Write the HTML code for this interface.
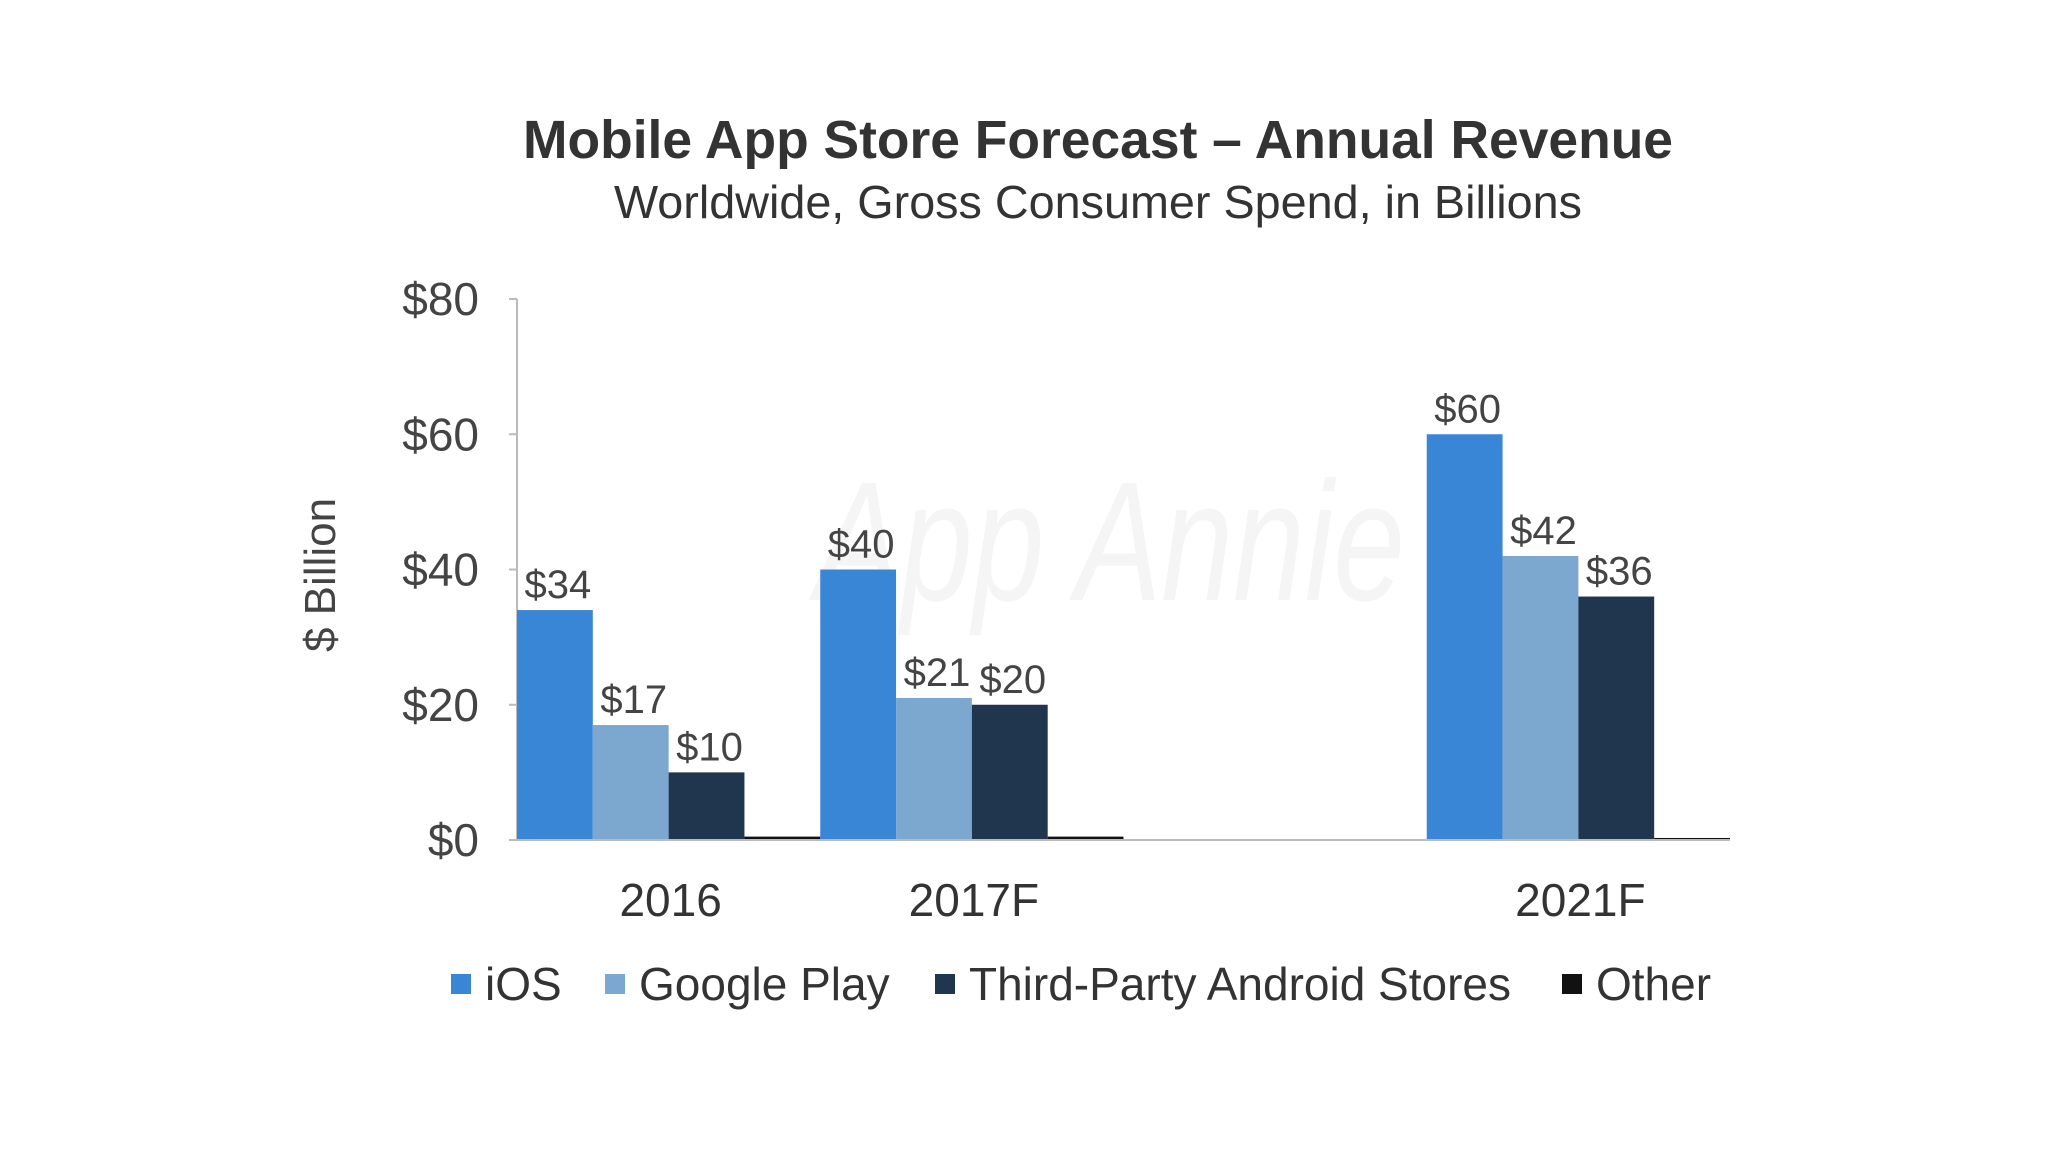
<!DOCTYPE html>
<html><head><meta charset="utf-8"><style>
html,body{margin:0;padding:0;background:#fff;}
svg{display:block;font-family:"Liberation Sans",sans-serif;}
</style></head><body>
<svg id="chart" width="2048" height="1152" viewBox="0 0 2048 1152">
<text x="1098" y="158" text-anchor="middle" font-size="54" font-weight="bold" fill="#333" textLength="1150" lengthAdjust="spacingAndGlyphs">Mobile App Store Forecast – Annual Revenue</text>
<text x="1098" y="218" text-anchor="middle" font-size="46" fill="#333" textLength="968" lengthAdjust="spacingAndGlyphs">Worldwide, Gross Consumer Spend, in Billions</text>
<text x="1110" y="600" text-anchor="middle" font-size="170" font-style="italic" fill="#f5f5f5" textLength="590" lengthAdjust="spacingAndGlyphs">App Annie</text>
<text transform="translate(335,575) rotate(-90)" text-anchor="middle" font-size="44" fill="#444">$ Billion</text>
<g id="plot"></g>
<g id="legend"></g>
</svg>
<script>
const categories = ["2016", "2017F", "", "2021F"];
const seriesNames = ["iOS", "Google Play", "Third-Party Android Stores", "Other"];
const iosValues = [34, 40, null, 60];
const googlePlayValues = [17, 21, null, 42];
const thirdPartyValues = [10, 20, null, 36];
const otherValues = [0.5, 0.5, null, 0.3];
const valueLabels = [["$34","$40","","$60"],["$17","$21","","$42"],["$10","$20","","$36"],["","","",""]];
const yTicks = [0, 20, 40, 60, 80];
const yTickLabels = ["$0","$20","$40","$60","$80"];

const colors = ["#3a86d6", "#7ca8d0", "#1f364e", "#111111"];
const series = [iosValues, googlePlayValues, thirdPartyValues, otherValues];
const X0 = 517, X1 = 1730, Y0 = 840, YTOP = 299, YMAX = 80;
const slot = (X1 - X0) / categories.length;
const barW = slot / 4;
const y = v => Y0 - (v / YMAX) * (Y0 - YTOP);
const xc = i => X0 + slot * i;
const NS = "http://www.w3.org/2000/svg";
const plot = document.getElementById("plot");
function mk(tag, attrs, parent, text) {
  const e = document.createElementNS(NS, tag);
  for (const k in attrs) e.setAttribute(k, attrs[k]);
  if (text !== undefined) e.textContent = text;
  parent.appendChild(e);
  return e;
}
let ax = mk("line", {x1: X0, y1: YTOP, x2: X0, y2: Y0, stroke: "#bbb", "stroke-width": 2}, plot);


yTicks.forEach((t, i) => {
  const tk = mk("line", {x1: X0 - 8, y1: y(t), x2: X0, y2: y(t), stroke: "#bbb", "stroke-width": 2}, plot);
  
  
  const tl = mk("text", {x: 479, y: y(t) + 16, "text-anchor": "end", "font-size": 46, fill: "#444"}, plot, yTickLabels[i]);
  
  
});
series.forEach((vals, s) => {
  vals.forEach((v, i) => {
    if (v === null) return;
    const bx = xc(i) + s * barW;
    const r = mk("rect", {x: bx, y: y(v), width: barW, height: Math.max(Y0 - y(v), 3), fill: colors[s]}, plot);
    
    
    if (valueLabels[s][i]) {
      const lb = mk("text", {x: bx + barW / 2 + 3, y: y(v) - 12, "text-anchor": "middle", "font-size": 40, fill: "#444"}, plot, valueLabels[s][i]);
      
      
    }
  });
});
let xa = mk("line", {x1: X0, y1: Y0, x2: X1, y2: Y0, stroke: "#bbb", "stroke-width": 2}, plot);


categories.forEach((c, i) => {
  if (!c) return;
  const t = mk("text", {x: xc(i) + slot / 2 + 2, y: 916, "text-anchor": "middle", "font-size": 46, fill: "#333"}, plot, c);
  
  
});
const legend = document.getElementById("legend");
const legX = [451, 605, 935, 1562];
seriesNames.forEach((n, s) => {
  const sq = mk("rect", {x: legX[s], y: 974, width: 20, height: 20, fill: colors[s]}, legend);
  
  
  const t = mk("text", {x: legX[s] + 34, y: 1000, "font-size": 46, fill: "#333"}, legend, n);
  
  
});
</script>
</body></html>
